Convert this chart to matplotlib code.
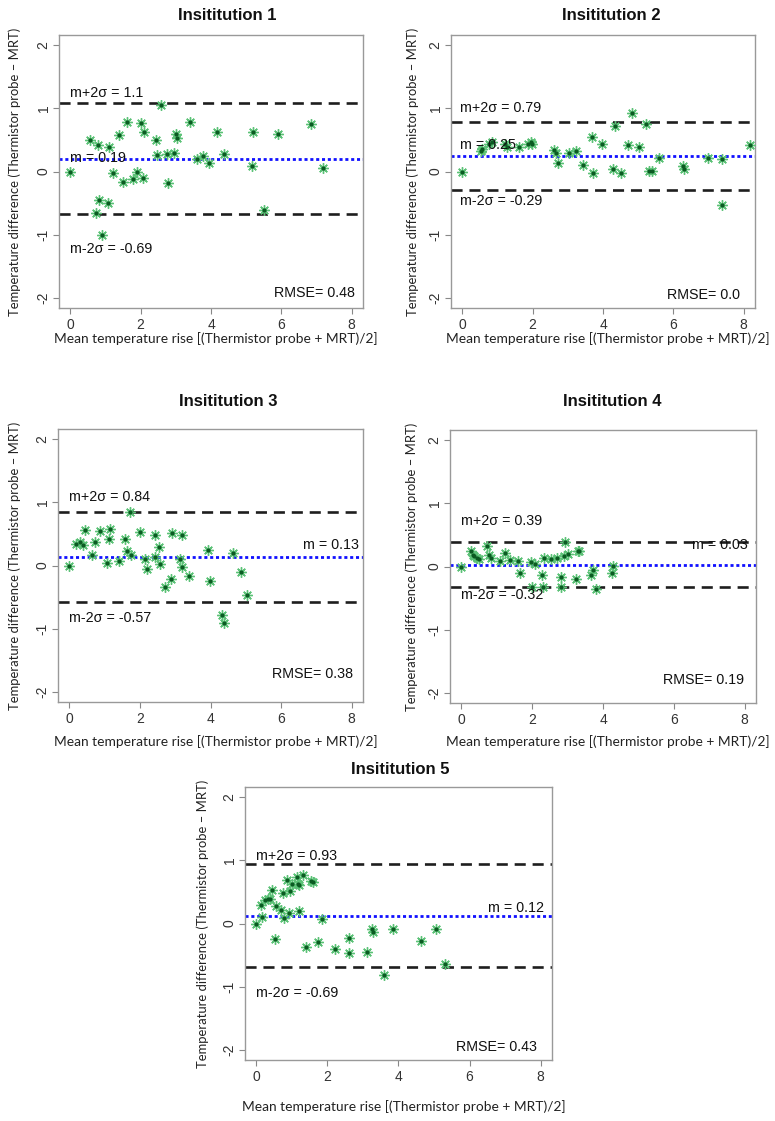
import matplotlib
matplotlib.use('Agg')
import matplotlib.pyplot as plt

# ---- data ----
titles = ['Insititution 1', 'Insititution 2', 'Insititution 3', 'Insititution 4', 'Insititution 5']

x1 = [0, 0.56, 0.73, 0.80, 0.83, 0.90, 1.06, 1.11, 1.21, 1.39, 1.49, 1.60, 1.77, 1.89, 2.01, 2.06,
      2.09, 2.43, 2.46, 2.59, 2.76, 2.79, 2.95, 3.00, 3.03, 3.40, 3.61, 3.77, 3.94, 4.18, 4.37,
      5.17, 5.19, 5.51, 5.91, 6.84, 7.17]
y1 = [0, 0.50, -0.65, 0.42, -0.45, -1.01, -0.50, 0.39, -0.02, 0.57, -0.17, 0.78, -0.12, 0.0, 0.76, -0.11,
      0.63, 0.50, 0.26, 1.05, 0.27, -0.18, 0.29, 0.59, 0.53, 0.79, 0.19, 0.24, 0.14, 0.63, 0.27,
      0.09, 0.63, -0.61, 0.59, 0.75, 0.06]

x2 = [0, 0.52, 0.56, 0.75, 0.85, 1.22, 1.27, 1.62, 1.88, 1.95, 1.98, 2.61, 2.66, 2.73, 3.04, 3.23,
      3.44, 3.70, 3.72, 3.98, 4.28, 4.35, 4.50, 4.71, 4.83, 5.01, 5.22, 5.30, 5.38, 5.58, 6.26,
      6.29, 6.98, 7.37, 7.39, 8.19]
y2 = [0, 0.33, 0.35, 0.43, 0.46, 0.43, 0.38, 0.38, 0.43, 0.46, 0.44, 0.34, 0.30, 0.14, 0.30, 0.33,
      0.10, 0.55, -0.03, 0.43, 0.04, 0.72, -0.03, 0.42, 0.93, 0.39, 0.75, 0.01, 0.01, 0.21, 0.09,
      0.04, 0.21, -0.53, 0.19, 0.42]

x3 = [0, 0.20, 0.29, 0.39, 0.45, 0.64, 0.72, 0.88, 1.08, 1.12, 1.14, 1.41, 1.58, 1.63, 1.71, 1.75,
      2.01, 2.15, 2.20, 2.43, 2.44, 2.53, 2.57, 2.70, 2.89, 2.91, 3.14, 3.19, 3.20, 3.38, 3.94,
      3.99, 4.33, 4.38, 4.65, 4.87, 5.04]
y3 = [0, 0.34, 0.37, 0.33, 0.56, 0.16, 0.37, 0.54, 0.04, 0.42, 0.58, 0.07, 0.42, 0.23, 0.85, 0.17,
      0.53, 0.10, -0.06, 0.48, 0.13, 0.30, 0.02, -0.34, -0.21, 0.51, 0.10, 0.48, -0.03, -0.17, 0.25,
      -0.25, -0.79, -0.91, 0.19, -0.11, -0.47]

x4 = [0, 0.28, 0.32, 0.37, 0.44, 0.49, 0.73, 0.77, 0.84, 1.10, 1.22, 1.36, 1.59, 1.67, 1.97, 2.00,
      2.07, 2.28, 2.30, 2.33, 2.54, 2.71, 2.80, 2.80, 2.90, 2.92, 3.02, 3.25, 3.30, 3.32, 3.65,
      3.73, 3.79, 4.26, 4.28]
y4 = [0, 0.25, 0.18, 0.17, 0.13, 0.12, 0.33, 0.18, 0.14, 0.09, 0.21, 0.10, 0.08, -0.11, 0.07, -0.33,
      0.04, -0.14, -0.32, 0.14, 0.12, 0.14, -0.16, -0.32, 0.17, 0.38, 0.19, -0.20, 0.24, 0.25, -0.13,
      -0.06, -0.36, -0.11, 0.01]

x5 = [0, 0.16, 0.14, 0.24, 0.33, 0.38, 0.44, 0.52, 0.56, 0.68, 0.75, 0.77, 0.87, 0.94, 0.92, 0.99,
      1.13, 1.18, 1.20, 1.20, 1.32, 1.39, 1.55, 1.58, 1.74, 1.86, 2.21, 2.61, 2.61, 3.11, 3.25,
      3.28, 3.60, 3.84, 4.63, 5.05, 5.32]
y5 = [0, 0.11, 0.30, 0.37, 0.39, 0.39, 0.53, -0.25, 0.27, 0.22, 0.49, 0.08, 0.69, 0.51, 0.17, 0.63,
      0.74, 0.63, 0.61, 0.19, 0.76, -0.37, 0.67, 0.66, -0.29, 0.07, -0.41, -0.23, -0.46, -0.45, -0.09,
      -0.14, -0.82, -0.09, -0.27, -0.09, -0.64]

xs = [x1, x2, x3, x4, x5]
ys = [y1, y2, y3, y4, y5]

upper = [1.09, 0.79, 0.84, 0.39, 0.94]
mean = [0.2, 0.25, 0.13, 0.03, 0.12]
lower = [-0.68, -0.29, -0.58, -0.33, -0.69]
upper_txt = ['1.1', '0.79', '0.84', '0.39', '0.93']
mean_txt = ['0.19', '0.25', '0.13', '0.03', '0.12']
lower_txt = ['-0.69', '-0.29', '-0.57', '-0.32', '-0.69']
rmse_txt = ['0.48', '0.0', '0.38', '0.19', '0.43']

xticks = [0, 2, 4, 6, 8]
yticks = [-2, -1, 0, 1, 2]

xlab = 'Mean temperature rise [(Thermistor probe + MRT)/2]'
ylab = 'Temperature difference (Thermistor probe \u2013 MRT)'

# ---- layout (pixels) ----
W, H = 775, 1121
boxes = [(59, 35, 304, 273), (451, 35, 304, 273), (58, 429, 305, 273),
         (450, 430, 306, 273), (245, 787, 307, 273)]
title_pos = [(227, 15), (611, 15), (228, 402), (612, 402), (400, 770)]
xlab_y = [339, 339, 742, 742, 1107]
ylab_x = [15, 413, 15, 412, 203]
# text placement in data units: upper y, mean (x, y, ha), lower y, rmse (x, y)
txt_pos = [
    (1.24, (0.0, 0.21, 'left'), -1.23, (8.09, -1.92)),
    (1.00, (-0.05, 0.42, 'left'), -0.47, (7.90, -1.95)),
    (1.08, (8.2, 0.32, 'right'), -0.83, (8.05, -1.71)),
    (0.72, (8.08, 0.34, 'right'), -0.45, (7.99, -1.79)),
    (1.07, (8.09, 0.24, 'right'), -1.10, (7.90, -1.96)),
]

rfont = ['Liberation Sans', 'Arimo', 'DejaVu Sans']
lfont = ['Lato', 'Open Sans', 'DejaVu Sans']

fig = plt.figure(figsize=(W / 100, H / 100), dpi=100)

for i in range(5):
    l, t, w, h = boxes[i]
    ax = fig.add_axes([l / W, 1 - (t + h) / H, w / W, h / H])
    ax.set_xlim(-0.32, 8.32)
    ax.set_ylim(-2.16, 2.16)

    ax.axhline(upper[i], color='#1e1e1e', lw=1.9, dashes=(4.2, 2.6), zorder=2)
    ax.axhline(lower[i], color='#1e1e1e', lw=1.9, dashes=(4.2, 2.6), zorder=2)
    ax.axhline(mean[i], color='#1010ff', lw=2.0, dashes=(1.1, 1.0), zorder=2)

    ax.plot(xs[i], ys[i], linestyle='none', marker=(8, 2, 0), markersize=7.5,
            mew=1.0, color='#5cc277', zorder=3)
    ax.plot(xs[i], ys[i], linestyle='none', marker='o', markersize=2.0,
            color='#0b5a22', zorder=4)

    uy, (mx, my, mha), ly, (rx, ry) = txt_pos[i]
    tx0 = -0.05 if i == 1 else 0.0
    ax.text(tx0, uy, 'm+2\u03c3 = ' + upper_txt[i], ha='left', va='center',
            fontsize=10.3, family=rfont, color='#111111', zorder=5)
    ax.text(mx, my, 'm = ' + mean_txt[i], ha=mha, va='center',
            fontsize=10.3, family=rfont, color='#111111', zorder=5)
    ax.text(tx0, ly, 'm-2\u03c3 = ' + lower_txt[i], ha='left', va='center',
            fontsize=10.3, family=rfont, color='#111111', zorder=5)
    ax.text(rx, ry, 'RMSE= ' + rmse_txt[i], ha='right', va='center',
            fontsize=10.3, family=rfont, color='#111111', zorder=5)

    ax.set_xticks(xticks)
    ax.set_yticks(yticks)
    ax.set_xticklabels([str(v) for v in xticks], family=rfont, fontsize=10, color='#333333')
    ax.set_yticklabels([str(v) for v in yticks], family=rfont, fontsize=10, color='#333333',
                       rotation=90, va='center')
    ax.tick_params(axis='both', direction='out', length=4, width=0.8, color='#888888')
    ax.tick_params(axis='x', pad=3)
    ax.tick_params(axis='y', pad=2)
    for s in ax.spines.values():
        s.set_color('#999999')
        s.set_linewidth(1.0)

    tx, ty = title_pos[i]
    fig.text(tx / W, 1 - ty / H, titles[i], ha='center', va='center',
             fontsize=12, fontweight='bold', family=rfont, color='#111111')
    fig.text((l + w / 2 + 5) / W, 1 - xlab_y[i] / H, xlab, ha='center', va='center',
             fontsize=9.9, family=lfont, color='#222222')
    fig.text(ylab_x[i] / W, 1 - (t + h / 2) / H, ylab, ha='center', va='center',
             rotation=90, fontsize=9.4, family=lfont, color='#222222')

fig.savefig('out.png', dpi=100)
